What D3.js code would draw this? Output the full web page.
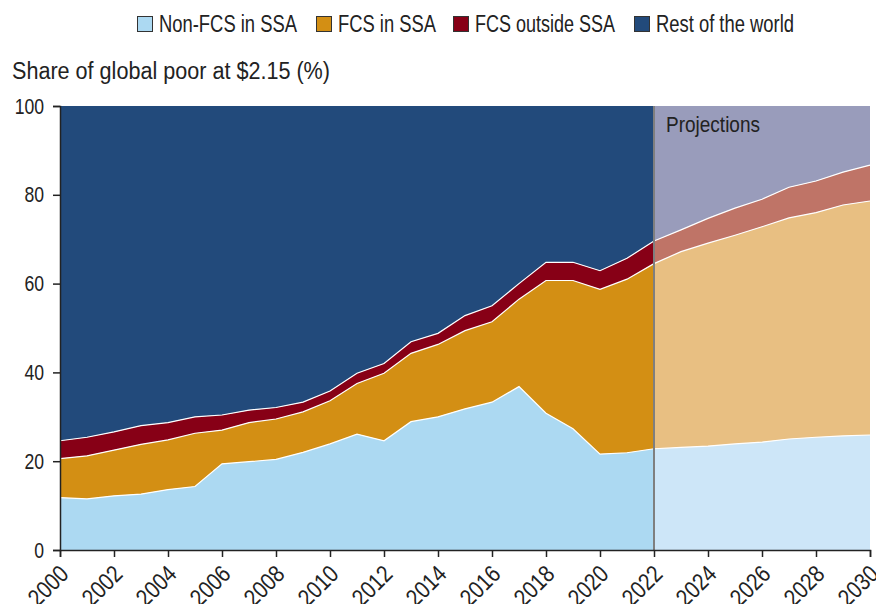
<!DOCTYPE html>
<html>
<head>
<meta charset="utf-8">
<script src="https://cdn.jsdelivr.net/npm/d3@7.9.0/dist/d3.min.js"></script>
<style>
  html, body { margin: 0; padding: 0; background: #fff; }
  svg { display: block; font-family: "Liberation Sans", Arial, sans-serif; }
</style>
</head>
<body>
<svg id="chart" width="876" height="604"></svg>
<script>
// values, shares of global poor (%)
const years = d3.range(2000, 2031);
const nonFcsSsa = [11.8, 11.5, 12.2, 12.6, 13.6, 14.3, 19.4, 19.9, 20.4, 22.0, 23.9, 26.1, 24.6, 28.9, 30.0, 31.8,
  33.3, 36.8, 30.8, 27.3, 21.6, 21.9, 22.8, 23.1, 23.4, 23.9, 24.3, 25.0, 25.4, 25.7, 25.9];
const fcsSsa = [8.8, 9.7, 10.3, 11.2, 11.2, 12.0, 7.6, 8.8, 9.1, 9.1, 9.7, 11.4, 15.2, 15.4, 16.3, 17.6,
  18.1, 19.7, 29.9, 33.4, 37.1, 39.1, 41.7, 44.1, 45.7, 47.0, 48.5, 49.8, 50.6, 52.0, 52.7];
const fcsOutsideSsa = [4.0, 4.2, 4.1, 4.2, 3.9, 3.7, 3.4, 2.8, 2.6, 2.2, 2.2, 2.3, 2.2, 2.6, 2.5, 3.4,
  3.6, 3.5, 4.1, 4.1, 4.2, 4.7, 5.1, 4.9, 5.6, 6.1, 6.2, 6.9, 7.1, 7.4, 8.1];

const lastActual = 2022;
const yTicks = [0, 20, 40, 60, 80, 100];
const xTicks = d3.range(2000, 2031, 2);

const seriesNames = ['Non-FCS in SSA', 'FCS in SSA', 'FCS outside SSA', 'Rest of the world'];
const keys = ['nonFcs', 'fcsSsa', 'fcsOut', 'rest'];
const colors = ['#acd9f2', '#d38f14', '#870016', '#224a7b'];
const projColors = ['#cde6f8', '#e8bf82', '#bf7467', '#999cbb'];

const rows = years.map((year, i) => ({
  year,
  nonFcs: nonFcsSsa[i],
  fcsSsa: fcsSsa[i],
  fcsOut: fcsOutsideSsa[i],
  rest: 100 - nonFcsSsa[i] - fcsSsa[i] - fcsOutsideSsa[i],
}));

const margin = { top: 106, right: 6, bottom: 54, left: 60 };
const width = 876, height = 604;

const svg = d3.select('#chart');
const x = d3.scaleLinear().domain([2000, 2030]).range([margin.left, width - margin.right]);
const y = d3.scaleLinear().domain([0, 100]).range([height - margin.bottom, margin.top]);

// no condensed font installed, so squeeze text horizontally
function squeeze(sel, factor) {
  sel.each(function () {
    const w = this.getComputedTextLength();
    d3.select(this).attr('textLength', w * factor).attr('lengthAdjust', 'spacingAndGlyphs');
  });
}
function fitWidth(sel, w) {
  sel.attr('textLength', w).attr('lengthAdjust', 'spacingAndGlyphs');
}

const stacked = d3.stack().keys(keys)(rows);

const area = d3.area()
  .x((d) => x(d.data.year))
  .y0((d) => y(d[0]))
  .y1((d) => y(d[1]));

const topLine = d3.line()
  .x((d) => x(d.data.year))
  .y((d) => y(d[1]));

function drawPart(filter, palette) {
  const g = svg.append('g');
  g.selectAll('path.area')
    .data(stacked)
    .join('path')
    .attr('class', 'area')
    .attr('d', (s) => area(s.filter(filter)))
    .attr('fill', (s, i) => palette[i]);
  g.selectAll('path.edge')
    .data(stacked.slice(0, 3))
    .join('path')
    .attr('class', 'edge')
    .attr('d', (s) => topLine(s.filter(filter)))
    .attr('fill', 'none')
    .attr('stroke', '#fff')
    .attr('stroke-width', 1.2);
}

drawPart((d) => d.data.year <= lastActual, colors);
drawPart((d) => d.data.year >= lastActual, projColors);

// projection divider
svg.append('line')
  .attr('x1', x(lastActual)).attr('x2', x(lastActual))
  .attr('y1', y(100)).attr('y2', y(0))
  .attr('stroke', '#7f7f7f')
  .attr('stroke-width', 2);

svg.append('text')
  .attr('x', x(lastActual) + 12)
  .attr('y', y(100) + 26)
  .attr('font-size', 22)
  .attr('fill', '#222')
  .text('Projections')
  .call(fitWidth, 94);

// axes
const yAxis = svg.append('g')
  .attr('transform', `translate(${margin.left},0)`)
  .call(d3.axisLeft(y).tickValues(yTicks).tickSize(7).tickPadding(9));

const xAxis = svg.append('g')
  .attr('transform', `translate(0,${height - margin.bottom})`)
  .call(d3.axisBottom(x).tickValues(xTicks).tickSize(7).tickFormat(d3.format('d')));

svg.selectAll('g').attr('font-family', null);
yAxis.selectAll('text').attr('font-size', 22).attr('fill', '#222').call(squeeze, 0.8);
xAxis.selectAll('text')
  .attr('font-size', 24)
  .attr('fill', '#222')
  .attr('text-anchor', 'end')
  .attr('dy', null)
  .attr('y', 0)
  .attr('transform', 'translate(-3,13) rotate(-45)')
  .attr('dominant-baseline', 'hanging')
  .call(squeeze, 0.85);

svg.selectAll('.domain, .tick line').attr('stroke', '#222').attr('stroke-width', 1.5);

// title
svg.append('text')
  .attr('x', 12)
  .attr('y', 79)
  .attr('font-size', 23)
  .attr('fill', '#222')
  .text('Share of global poor at $2.15 (%)')
  .call(fitWidth, 318);

// legend
const legendX = [137, 316, 453, 634];
const legendW = [138, 98, 140, 138];
const items = svg.append('g').selectAll('g')
  .data(seriesNames)
  .join('g')
  .attr('transform', (d, i) => `translate(${legendX[i]},16)`);
items.append('rect')
  .attr('x', 0.5).attr('y', 0.5)
  .attr('width', 15).attr('height', 15)
  .attr('fill', (d, i) => colors[i])
  .attr('stroke', '#333').attr('stroke-width', 1);
items.append('text')
  .attr('x', 22)
  .attr('y', 16)
  .attr('font-size', 23)
  .attr('fill', '#222')
  .text((d) => d)
  .each(function (d, i) { fitWidth(d3.select(this), legendW[i]); });
</script>
</body>
</html>
